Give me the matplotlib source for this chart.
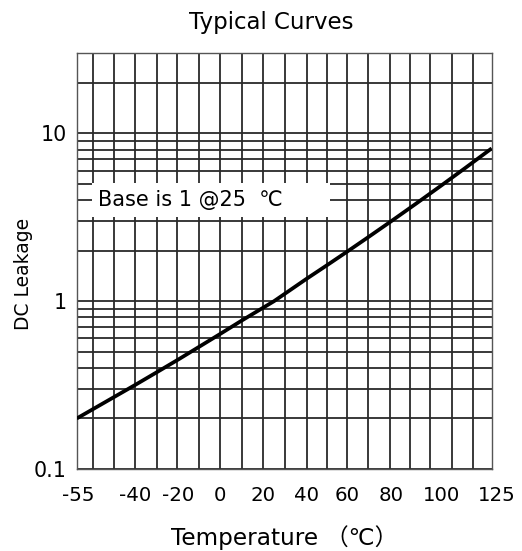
import numpy as np
import matplotlib
matplotlib.use("Agg")
import matplotlib.pyplot as plt
from matplotlib.patches import Rectangle
from matplotlib.ticker import LogLocator, NullFormatter, FixedLocator
from matplotlib.transforms import ScaledTranslation

# ---- data ----
temps = [-55, -40, -30, -20, 0, 10, 25, 40, 50, 60, 70, 80, 90, 100, 112, 125]
leakage = [0.20, 0.318, 0.378, 0.45, 0.637, 0.766, 1.0, 1.355, 1.636, 1.98,
           2.43, 2.99, 3.82, 4.90, 6.24, 8.14]
x_tick_values = [-55, -40, -20, 0, 20, 40, 60, 80, 100, 125]
x_tick_labels = ["-55", "-40", "-20", "0", "20", "40", "60", "80", "100", "125"]
y_tick_values = [0.1, 1, 10]
y_tick_labels = ["0.1", "1", "10"]

# ---- layout (printed axis is non-uniform; piecewise scale) ----
scale_T = [-55, -40, -20, 0, 20, 40, 60, 80, 100, 125]
scale_G = [76.7, 135.6, 178.5, 220.0, 263.3, 306.2, 347.5, 391.0, 441.5, 491.7]
grid_G = [93.3, 114.3, 135.0, 156.7, 177.3, 199.3, 220.0, 241.7, 263.3, 285.0,
          306.7, 326.7, 347.3, 368.3, 390.0, 410.0, 430.0, 451.7, 473.3]


def fwd(t):
    return np.interp(t, scale_T, scale_G)


def inv(g):
    return np.interp(g, scale_G, scale_T)


W, H = 522, 551
fig = plt.figure(figsize=(W / 100, H / 100), dpi=100)
ax = fig.add_axes([76.7 / W, 1 - 469 / H, 415 / W, (469 - 53.3) / H])

ax.set_xscale("function", functions=(fwd, inv))
ax.set_yscale("log")
ax.set_xlim(-55, 125)
ax.set_ylim(0.1, 30)

gc = "#2a2a2a"
ax.xaxis.remove_overlapping_locs = False
ax.xaxis.set_major_locator(FixedLocator(x_tick_values))
ax.set_xticklabels(x_tick_labels, fontsize=14.2)
ax.xaxis.set_minor_locator(FixedLocator(list(inv(np.array(grid_G)))))
ax.set_yticks(y_tick_values)
ax.set_yticklabels(y_tick_labels, fontsize=14.8)
ax.yaxis.set_minor_locator(LogLocator(base=10, subs=np.arange(2, 10)))
ax.yaxis.set_minor_formatter(NullFormatter())
ax.tick_params(axis="both", which="both", length=0)
ax.tick_params(axis="x", which="major", pad=12)
ax.tick_params(axis="y", which="major", pad=7)

# nudge end labels like the printed chart
lbls = ax.get_xticklabels()
lbls[0].set_transform(lbls[0].get_transform() + ScaledTranslation(2 / 100, 0, fig.dpi_scale_trans))
lbls[-1].set_transform(lbls[-1].get_transform() + ScaledTranslation(5 / 100, 0, fig.dpi_scale_trans))

ax.grid(False, axis="x", which="major")
ax.grid(True, axis="x", which="minor", color=gc, linewidth=1.3)
ax.grid(True, axis="y", which="both", color=gc, linewidth=1.3)
ax.set_axisbelow(True)

for s in ax.spines.values():
    s.set_color("#555555")
    s.set_linewidth(1.0)

ax.plot(temps, leakage, color="black", linewidth=2.7, zorder=3,
        solid_capstyle="butt")

# annotation box
ax.add_patch(Rectangle((0.037, 0.606), 0.573, 0.082, transform=ax.transAxes,
                       facecolor="white", edgecolor="none", zorder=4))
ax.text(0.051, 0.647, "Base is 1 @25  ℃", transform=ax.transAxes,
        fontsize=15, va="center", ha="left", zorder=5,
        family=["DejaVu Sans", "Noto Sans CJK SC"])

ax.set_ylabel("DC Leakage", fontsize=13.5)
ax.yaxis.set_label_coords(-0.105, 0.47)
ax.set_xlabel("Temperature （℃）", fontsize=16.7,
              family=["DejaVu Sans", "Noto Sans CJK SC"])
ax.xaxis.set_label_coords(0.5, -0.135)

fig.text(0.52, 0.96, "Typical Curves", fontsize=16.5, ha="center", va="center")

fig.savefig("out.png", dpi=100, facecolor="white")
